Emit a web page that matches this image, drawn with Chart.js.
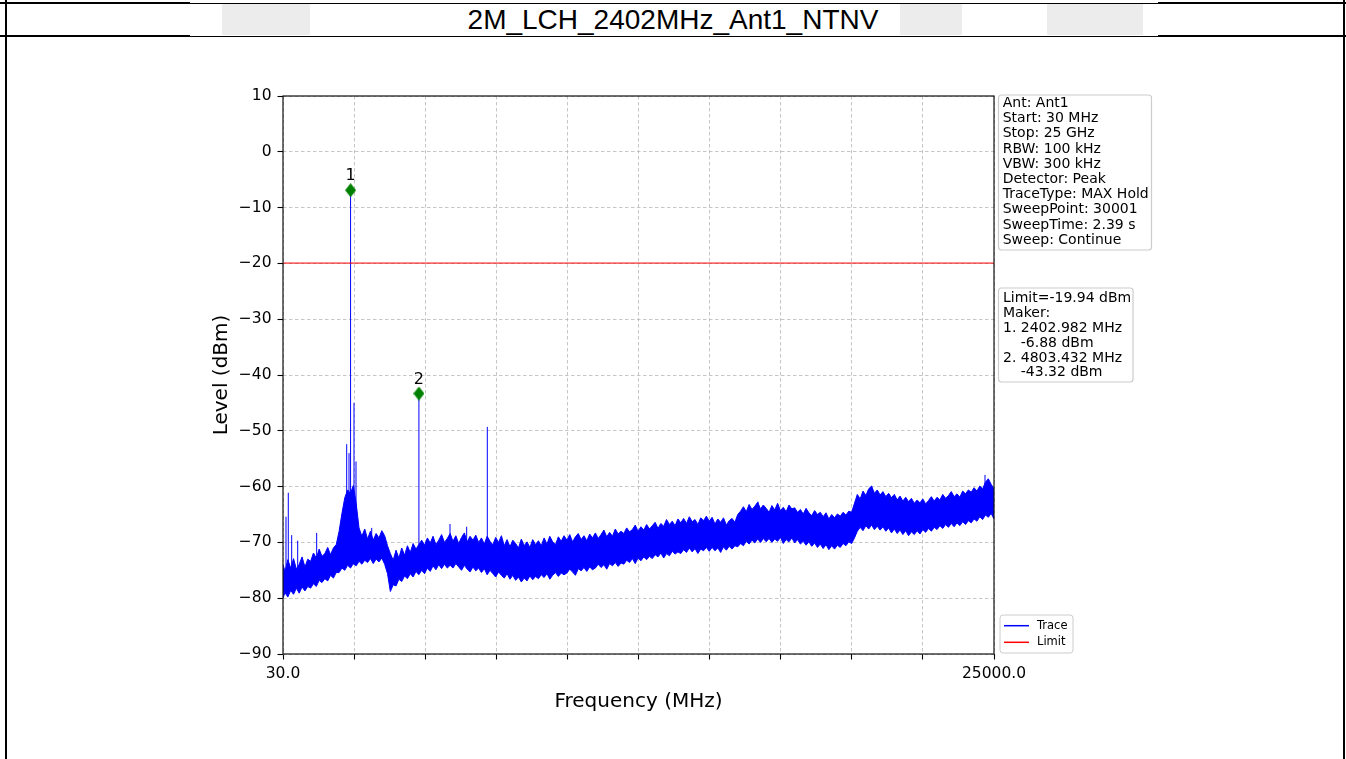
<!DOCTYPE html>
<html>
<head>
<meta charset="utf-8">
<title>2M_LCH_2402MHz_Ant1_NTNV</title>
<script src="https://cdn.jsdelivr.net/npm/chart.js@4.4.1/dist/chart.umd.min.js"></script>
<style>
  html, body { margin: 0; padding: 0; background: #fff; }
  #page { position: relative; width: 1346px; height: 759px; overflow: hidden; background: #fff; }
  .rule { position: absolute; background: #000; }
  .shade { position: absolute; top: 4px; height: 31px; background: #ececec; }
  #title {
    position: absolute; left: 0; top: 4px; width: 1346px; height: 32px; line-height: 32px;
    text-align: center; font-family: "Liberation Sans", Arial, sans-serif; font-size: 28px; color: #000;
  }
  #wrap { position: absolute; left: 0; top: 0; width: 1346px; height: 759px; }
</style>
</head>
<body>
<div id="page">
  <div class="shade" style="left:222px;width:88px"></div>
  <div class="shade" style="left:900px;width:62px"></div>
  <div class="shade" style="left:1047px;width:96px"></div>

  <div class="rule" style="left:0;top:2px;width:190px;height:2px"></div>
  <div class="rule" style="left:190px;top:3px;width:968px;height:1px"></div>
  <div class="rule" style="left:1158px;top:2px;width:188px;height:2px"></div>
  <div class="rule" style="left:0;top:35px;width:190px;height:2px"></div>
  <div class="rule" style="left:190px;top:36px;width:968px;height:1px"></div>
  <div class="rule" style="left:1158px;top:35px;width:188px;height:2px"></div>
  <div class="rule" style="left:5px;top:0;width:2px;height:759px"></div>
  <div class="rule" style="left:1343px;top:0;width:2px;height:759px"></div>

  <div id="title">2M_LCH_2402MHz_Ant1_NTNV</div>
  <div id="wrap"><canvas id="spectrum"></canvas></div>
</div>

<script>
// Sweep 30 MHz .. 25 GHz. The max-hold trace is drawn as a filled min/max
// envelope (100 MHz columns) plus the narrow spurs that stick out of it.

const xTicks = [30, 2527, 5024, 7521, 10018, 12515, 15012, 17509, 20006, 22503, 25000];
const yTicksMin = -90;
const yTicksMax = 10;

const sweepFreqs = [
  30, 100, 200, 300, 400, 500, 600, 700, 800, 900,
  1000, 1100, 1200, 1300, 1400, 1500, 1600, 1700, 1800, 1900,
  2000, 2100, 2200, 2300, 2400, 2500, 2600, 2700, 2800, 2900,
  3000, 3100, 3200, 3300, 3400, 3500, 3600, 3700, 3800, 3900,
  4000, 4100, 4200, 4300, 4400, 4500, 4600, 4700, 4800, 4900,
  5000, 5100, 5200, 5300, 5400, 5500, 5600, 5700, 5800, 5900,
  6000, 6100, 6200, 6300, 6400, 6500, 6600, 6700, 6800, 6900,
  7000, 7100, 7200, 7300, 7400, 7500, 7600, 7700, 7800, 7900,
  8000, 8100, 8200, 8300, 8400, 8500, 8600, 8700, 8800, 8900,
  9000, 9100, 9200, 9300, 9400, 9500, 9600, 9700, 9800, 9900,
  10000, 10100, 10200, 10300, 10400, 10500, 10600, 10700, 10800, 10900,
  11000, 11100, 11200, 11300, 11400, 11500, 11600, 11700, 11800, 11900,
  12000, 12100, 12200, 12300, 12400, 12500, 12600, 12700, 12800, 12900,
  13000, 13100, 13200, 13300, 13400, 13500, 13600, 13700, 13800, 13900,
  14000, 14100, 14200, 14300, 14400, 14500, 14600, 14700, 14800, 14900,
  15000, 15100, 15200, 15300, 15400, 15500, 15600, 15700, 15800, 15900,
  16000, 16100, 16200, 16300, 16400, 16500, 16600, 16700, 16800, 16900,
  17000, 17100, 17200, 17300, 17400, 17500, 17600, 17700, 17800, 17900,
  18000, 18100, 18200, 18300, 18400, 18500, 18600, 18700, 18800, 18900,
  19000, 19100, 19200, 19300, 19400, 19500, 19600, 19700, 19800, 19900,
  20000, 20100, 20200, 20300, 20400, 20500, 20600, 20700, 20800, 20900,
  21000, 21100, 21200, 21300, 21400, 21500, 21600, 21700, 21800, 21900,
  22000, 22100, 22200, 22300, 22400, 22500, 22600, 22700, 22800, 22900,
  23000, 23100, 23200, 23300, 23400, 23500, 23600, 23700, 23800, 23900,
  24000, 24100, 24200, 24300, 24400, 24500, 24600, 24700, 24800, 24900,
  25000
];

// upper edge of the noise band per column (dBm)
const traceHigh = [
  -74.0, -75.2, -73.1, -74.6, -72.9, -74.8, -73.9, -72.6, -74.4, -73.0,
  -73.4, -71.9, -72.8, -71.2, -72.5, -72.0, -70.9, -72.2, -71.0, -70.4,
  -68.0, -64.8, -62.0, -60.6, -61.2, -59.8, -63.0, -67.4, -68.9, -67.6,
  -69.4, -68.0, -69.6, -68.4, -69.2, -67.9, -68.8, -70.6, -72.0, -73.2,
  -71.4, -72.8, -71.0, -72.3, -70.6, -71.8, -70.2, -71.2, -70.4, -69.6,
  -70.5, -69.2, -70.1, -68.9, -70.4, -69.6, -68.6, -70.0, -69.3, -68.4,
  -69.8, -68.8, -70.2, -69.1, -68.3, -69.9, -68.9, -69.6, -68.7, -70.0,
  -69.2, -70.3, -68.9, -69.8, -70.4, -69.1, -70.0, -68.8, -70.6, -69.5,
  -70.8, -69.6, -70.2, -71.0, -69.4, -70.6, -69.9, -70.9, -69.5, -70.4,
  -69.7, -70.6, -69.2, -70.3, -68.9, -69.9, -70.4, -69.0, -69.8, -68.8,
  -69.6, -68.6, -69.9, -69.0, -68.4, -69.5, -68.8, -69.7, -68.5, -69.2,
  -68.3, -69.3, -68.6, -67.8, -69.0, -68.2, -68.9, -67.6, -68.5, -68.0,
  -68.4, -67.4, -68.1, -67.7, -66.9, -68.0, -67.2, -67.8, -66.8, -67.6,
  -67.0, -66.4, -67.5, -66.6, -67.1, -65.9, -66.8, -66.2, -67.0, -65.8,
  -66.5, -65.7, -66.6, -65.4, -66.3, -65.9, -66.8, -65.6, -66.1, -65.3,
  -66.2, -65.5, -66.7, -65.8, -66.4, -65.6, -66.9, -66.1, -65.7, -66.4,
  -65.0, -64.4, -63.6, -64.5, -63.2, -64.1, -63.5, -62.8, -64.0, -63.3,
  -63.9, -64.6, -63.4, -64.2, -63.0, -64.3, -63.7, -64.5, -63.3, -64.0,
  -63.8, -64.6, -64.1, -64.9, -63.9, -64.7, -65.2, -64.3, -65.0, -64.6,
  -65.4, -64.7, -65.8, -65.0, -65.6, -64.9, -65.3, -64.6, -65.1, -64.4,
  -64.6, -63.0, -61.4, -62.2, -60.8, -61.6, -60.4, -59.9, -61.2, -60.6,
  -61.5, -60.9, -61.8, -61.2, -62.0, -61.4, -62.4, -61.7, -62.6, -61.9,
  -62.7, -62.1, -63.0, -62.4, -62.9, -62.2, -63.1, -62.5, -61.8, -62.6,
  -61.9, -62.4, -61.4, -62.1, -61.6, -60.9, -61.8, -61.3, -61.9, -60.8,
  -61.3, -60.6, -61.0, -60.2, -60.8, -59.9, -60.4, -59.2, -58.6, -59.6,
  -60.4
];

// lower edge of the noise band per column (dBm)
const traceLow = [
  -80.0, -79.0, -79.8, -78.6, -79.3, -78.2, -79.1, -78.0, -78.7, -77.9,
  -78.2, -77.4, -77.9, -76.8, -77.2, -76.5, -76.9, -75.9, -76.4, -75.4,
  -75.4, -74.6, -75.0, -74.1, -74.6, -73.8, -74.2, -73.4, -73.9, -73.2,
  -73.6, -72.9, -73.8, -73.0, -73.5, -72.8, -73.9, -75.6, -78.8, -77.6,
  -77.8, -76.6, -77.0, -76.0, -76.5, -75.6, -76.2, -75.2, -75.8, -75.0,
  -75.6, -74.6, -75.2, -74.2, -74.9, -74.0, -74.7, -73.9, -74.6, -74.1,
  -74.6, -73.8, -74.4, -75.0, -74.1, -74.8, -75.3, -74.4, -75.1, -74.6,
  -75.4, -74.7, -75.8, -75.0, -75.6, -76.2, -75.3, -75.9, -76.4, -75.6,
  -76.6, -75.9, -76.8, -76.2, -77.1, -76.4, -76.9, -76.0, -76.7, -76.1,
  -76.5, -75.8, -76.3, -75.6, -76.6, -75.9, -75.4, -76.1, -75.5, -75.8,
  -75.5, -74.8, -75.3, -75.9, -74.7, -75.1, -74.5, -75.2, -74.4, -74.9,
  -74.6, -73.9, -74.5, -74.0, -74.8, -73.8, -74.2, -73.6, -74.3, -73.7,
  -73.9, -73.2, -73.6, -72.9, -73.8, -72.8, -73.3, -72.6, -73.1, -72.5,
  -72.9, -72.2, -72.6, -71.9, -72.8, -72.0, -72.4, -71.6, -72.1, -71.7,
  -72.0, -71.3, -71.8, -71.0, -71.7, -71.1, -72.0, -71.2, -71.5, -70.9,
  -71.6, -70.9, -71.5, -71.0, -71.8, -70.8, -71.4, -70.7, -71.2, -70.6,
  -70.8, -70.2, -70.6, -69.8, -70.3, -69.6, -70.1, -69.4, -70.0, -69.3,
  -69.9, -69.3, -70.0, -69.4, -69.8, -69.1, -70.2, -69.5, -69.9, -69.2,
  -70.1, -69.5, -70.3, -69.8, -70.5, -69.9, -70.7, -70.1, -70.9, -70.3,
  -71.1, -70.4, -71.3, -70.6, -71.2, -70.5, -70.9, -70.2, -70.6, -69.9,
  -70.2, -69.2, -68.0, -67.3, -67.9, -67.0, -67.6, -66.9, -67.7, -67.1,
  -67.8, -67.2, -68.0, -67.4, -68.3, -67.6, -68.4, -67.8, -68.6, -67.9,
  -68.8, -68.1, -68.6, -67.9, -68.5, -67.7, -68.2, -67.5, -68.0, -67.3,
  -67.7, -67.0, -67.5, -66.8, -67.3, -66.6, -67.2, -66.5, -67.0, -66.3,
  -66.8, -66.1, -66.5, -65.8, -66.2, -65.4, -65.9, -65.1, -65.5, -64.8,
  -65.8
];

// narrow spurs rising out of the band
const spikeFreqs  = [135, 216, 335, 546, 1213, 2267, 2348, 2402.982, 2523, 2594, 3145, 4803.432, 5895, 6481, 7205, 16712, 20705, 24684];
const spikeTops   = [-65.4, -61.1, -68.7, -69.7, -68.3, -52.4, -54.0, -6.88, -45.0, -55.5, -67.4, -43.32, -66.7, -67.2, -49.3, -62.7, -59.9, -57.9];
const spikeFloors = [-79.0, -79.0, -78.0, -78.0, -77.0, -74.0, -74.0, -74.0, -74.0, -73.5, -73.0, -75.0, -73.8, -74.2, -74.8, -68.0, -66.0, -63.0];

const markerNames  = ['1', '2'];
const markerFreqs  = [2402.982, 4803.432];
const markerLevels = [-6.88, -43.32];

const limitLevel = -19.94;

const settingLines = [
  'Ant: Ant1', 'Start: 30 MHz', 'Stop: 25 GHz', 'RBW: 100 kHz', 'VBW: 300 kHz',
  'Detector: Peak', 'TraceType: MAX Hold', 'SweepPoint: 30001', 'SweepTime: 2.39 s', 'Sweep: Continue'
];
const markerLines = [
  'Limit=-19.94 dBm', 'Maker:', '1. 2402.982 MHz', '    -6.88 dBm', '2. 4803.432 MHz', '    -43.32 dBm'
];

const FONT = '"DejaVu Sans", Verdana, sans-serif';

function diamond(w, h, color) {
  const c = document.createElement('canvas');
  c.width = w; c.height = h;
  const g = c.getContext('2d');
  g.fillStyle = color;
  g.beginPath();
  g.moveTo(w / 2, 0); g.lineTo(w, h / 2); g.lineTo(w / 2, h); g.lineTo(0, h / 2);
  g.closePath();
  g.fill();
  return c;
}

const highPts = sweepFreqs.map((f, i) => ({ x: f, y: traceHigh[i] }));
const lowPts = sweepFreqs.map((f, i) => ({ x: f, y: traceLow[i] }));
const spikePts = [];
spikeFreqs.forEach((f, i) => {
  spikePts.push({ x: f, y: spikeFloors[i] }, { x: f, y: spikeTops[i] }, { x: f, y: null });
});
const markerPts = markerFreqs.map((f, i) => ({ x: f, y: markerLevels[i] }));

function textBox(ctx, lines, x0, y0, x1, y1, tx, firstY, step) {
  ctx.save();
  ctx.beginPath();
  ctx.roundRect(x0, y0, x1 - x0, y1 - y0, 3);
  ctx.fillStyle = 'rgba(255,255,255,0.85)';
  ctx.fill();
  ctx.strokeStyle = '#cccccc';
  ctx.lineWidth = 1.2;
  ctx.stroke();
  ctx.fillStyle = '#000';
  ctx.font = '14px ' + FONT;
  ctx.textBaseline = 'middle';
  ctx.textAlign = 'left';
  lines.forEach((s, i) => ctx.fillText(s, tx, firstY + i * step));
  ctx.restore();
}

const overlay = {
  id: 'overlay',
  afterDraw(chart) {
    const { ctx, chartArea: a, scales } = chart;

    // marker numbers above the diamonds
    ctx.save();
    ctx.fillStyle = '#000';
    ctx.font = '16px ' + FONT;
    ctx.textAlign = 'center';
    ctx.textBaseline = 'middle';
    markerFreqs.forEach((f, i) => {
      const px = scales.x.getPixelForValue(f);
      const py = scales.y.getPixelForValue(markerLevels[i]);
      ctx.fillText(markerNames[i], px, py - 14);
    });
    ctx.restore();

    // four spines
    ctx.save();
    ctx.strokeStyle = '#111';
    ctx.lineWidth = 1.2;
    ctx.strokeRect(a.left, a.top, a.right - a.left, a.bottom - a.top);
    ctx.restore();

    textBox(ctx, settingLines, 998.5, 95, 1151.5, 250, 1002.7, 103.3, 15.2);
    textBox(ctx, markerLines, 998.5, 288, 1133, 382, 1003, 298.3, 14.9);

    // legend
    ctx.save();
    ctx.beginPath();
    ctx.roundRect(1000, 615, 73, 38, 3);
    ctx.fillStyle = 'rgba(255,255,255,0.85)';
    ctx.fill();
    ctx.strokeStyle = '#cccccc';
    ctx.lineWidth = 1;
    ctx.stroke();
    const entries = [chart.data.datasets[0], chart.data.datasets[3]];
    ctx.font = '11.5px ' + FONT;
    ctx.textBaseline = 'middle';
    ctx.textAlign = 'left';
    entries.forEach((ds, i) => {
      const y = 625.7 + i * 16.6;
      ctx.strokeStyle = ds.borderColor;
      ctx.lineWidth = 1.5;
      ctx.beginPath();
      ctx.moveTo(1004, y); ctx.lineTo(1029, y);
      ctx.stroke();
      ctx.fillStyle = '#000';
      ctx.fillText(ds.label, 1037, y);
    });
    ctx.restore();
  }
};

const gridStyle = {
  color: '#b8b8b8',
  lineWidth: 0.8,
  tickColor: '#000',
  tickWidth: 1.1,
  tickLength: 5.5,
  tickBorderDash: [],
  borderDash: [3.5, 2.5]
};

new Chart(document.getElementById('spectrum').getContext('2d'), {
  type: 'line',
  data: {
    datasets: [
      { label: 'Trace', data: highPts, borderColor: '#0000ff', borderWidth: 1, pointRadius: 0, fill: false, order: 4 },
      { label: 'TraceLow', data: lowPts, borderColor: '#0000ff', backgroundColor: '#0000ff', borderWidth: 1, pointRadius: 0, fill: 0, order: 3 },
      { label: 'Spurs', data: spikePts, borderColor: '#0000ff', borderWidth: 1, pointRadius: 0, spanGaps: false, fill: false, order: 2 },
      { label: 'Limit', data: [{ x: 30, y: limitLevel }, { x: 25000, y: limitLevel }], borderColor: '#ff0000', borderWidth: 1, pointRadius: 0, fill: false, order: 1 },
      { label: 'Markers', data: markerPts, showLine: false, pointStyle: diamond(11, 14, '#008000'), pointRadius: 7, order: 0 }
    ]
  },
  options: {
    responsive: true,
    maintainAspectRatio: false,
    animation: false,
    events: [],
    layout: { padding: { left: 205, right: 352, top: 96, bottom: 35 } },
    plugins: { legend: { display: false }, tooltip: { enabled: false } },
    scales: {
      x: {
        type: 'linear',
        min: 30,
        max: 25000,
        afterFit(scale) { scale.height = 70; },
        afterBuildTicks(scale) { scale.ticks = xTicks.map(v => ({ value: v })); },
        grid: gridStyle,
        border: { display: false, dash: [3.5, 2.5] },
        ticks: {
          autoSkip: false,
          maxRotation: 0,
          padding: 5,
          color: '#000',
          font: { family: FONT, size: 15.5 },
          callback: (v, i, all) => (i === 0 || i === all.length - 1) ? Number(v).toFixed(1) : ''
        },
        title: {
          display: true,
          text: 'Frequency (MHz)',
          color: '#000',
          font: { family: FONT, size: 20 },
          padding: { top: 0, bottom: 10 }
        }
      },
      y: {
        min: yTicksMin,
        max: yTicksMax,
        afterFit(scale) { scale.width = 78; },
        grid: gridStyle,
        border: { display: false, dash: [3.5, 2.5] },
        ticks: {
          stepSize: 10,
          autoSkip: false,
          padding: 6,
          color: '#000',
          font: { family: FONT, size: 15.5 },
          callback: v => v < 0 ? '\u2212' + Math.abs(v) : String(v)
        },
        title: {
          display: true,
          text: 'Level (dBm)',
          color: '#000',
          font: { family: FONT, size: 20 },
          padding: { top: 5, bottom: 0 }
        }
      }
    }
  },
  plugins: [overlay]
});
</script>
</body>
</html>
